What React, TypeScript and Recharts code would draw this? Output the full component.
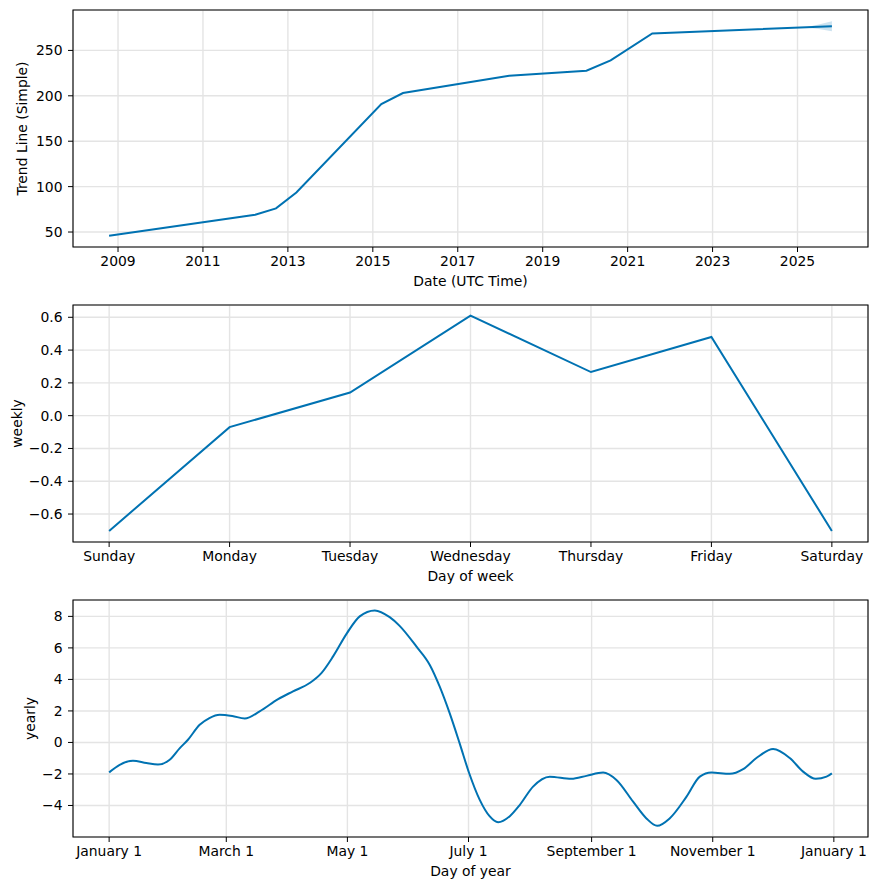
import {
  ComposedChart,
  LineChart,
  Line,
  Area,
  XAxis,
  YAxis,
  CartesianGrid,
  ReferenceArea,
} from 'recharts';

// =============================================================================
// Data
// =============================================================================

// Trend component: decimal years -> value
const trendYears = [2008.79, 2012.23, 2012.72, 2013.2, 2015.2, 2015.71, 2018.21, 2020.03, 2020.6, 2021.58, 2025.81];
const trendValues = [46, 69, 76, 93.6, 191, 203, 222, 227.6, 239, 268.6, 276.6];

// Uncertainty band on the forecast part of the trend
const bandYears = [2025.16, 2025.5, 2025.81];
const bandLower = [275.3, 273.6, 271];
const bandUpper = [275.3, 278.6, 282];

const trendTicks = [2009, 2011, 2013, 2015, 2017, 2019, 2021, 2023, 2025];
const trendYTicks = [50, 100, 150, 200, 250];

// Weekly component
const weekDays = ['Sunday', 'Monday', 'Tuesday', 'Wednesday', 'Thursday', 'Friday', 'Saturday'];
const weeklyValues = [-0.703, -0.07, 0.141, 0.61, 0.266, 0.48, -0.703];
const weeklyYTicks = [-0.6, -0.4, -0.2, 0, 0.2, 0.4, 0.6];

// Yearly component: day of year -> value
const yearlyDays = [
  0, 5.3, 12, 18.8, 24.6, 30.5, 35.6, 39.7, 45.6, 50.5, 55.7, 62, 68.3, 75.8, 85.1, 92.6, 101, 106.9, 112.8,
  119.8, 126.2, 133.8, 141.3, 146.3, 154.8, 161.5, 166.5, 171.5, 176.5, 181.3, 186.6, 191.6, 195.9, 201.8, 206.8,
  213.5, 221.9, 232.8, 240.4, 248.8, 255.5, 263.9, 270.6, 276, 282.3, 290.8, 297.5, 303.3, 312.6, 319.3, 326,
  334.4, 342.8, 349.5, 355.9, 361.3, 364,
];
const yearlyValues = [
  -1.9, -1.42, -1.16, -1.31, -1.4, -1.1, -0.36, 0.17, 1.12, 1.55, 1.76, 1.68, 1.52, 1.97, 2.75, 3.24, 3.77, 4.4,
  5.46, 6.94, 8.0, 8.38, 7.95, 7.4, 6.08, 4.92, 3.54, 1.86, -0.04, -1.94, -3.63, -4.68, -5.06, -4.68, -3.97,
  -2.8, -2.17, -2.31, -2.12, -1.91, -2.38, -3.76, -4.82, -5.29, -4.82, -3.44, -2.17, -1.91, -1.99, -1.69, -0.99,
  -0.42, -0.99, -1.85, -2.31, -2.17, -1.96,
];
const yearlyTicks = [0, 59, 120, 181, 243, 304, 365];
const yearlyTickLabels = ['January 1', 'March 1', 'May 1', 'July 1', 'September 1', 'November 1', 'January 1'];
const yearlyYTicks = [-4, -2, 0, 2, 4, 6, 8];

// =============================================================================
// Style constants
// =============================================================================

const LINE_COLOR = '#0072B2';
const GRID_COLOR = '#e4e4e4';
const FONT = '"DejaVu Sans", sans-serif';
const FONT_SIZE = 13.9;

const TREND_X_DOMAIN: [number, number] = [2007.94, 2026.66];
const TREND_Y_DOMAIN: [number, number] = [33.5, 294.5];
const WEEKLY_X_DOMAIN: [number, number] = [-0.3, 6.3];
const WEEKLY_Y_DOMAIN: [number, number] = [-0.7705, 0.675];
const YEARLY_X_DOMAIN: [number, number] = [-18.2, 382.2];
const YEARLY_Y_DOMAIN: [number, number] = [-6.0, 9.04];

const CHART_W = 878;
const CHART_H = 300;
const MARGIN = { top: 10, right: 10, left: 0, bottom: 0 };

const tickStyle = { fill: '#000', fontSize: FONT_SIZE, fontFamily: FONT };
const axisLabelStyle = { fill: '#000', fontSize: FONT_SIZE, fontFamily: FONT };

// matplotlib uses a real minus sign
const fmtMinus = (s: string) => s.replace('-', '\u2212');

// =============================================================================
// Derived rows
// =============================================================================

const trendRows = (() => {
  const rows: { x: number; trend?: number; band?: [number, number] }[] = [];
  trendYears.forEach((x, i) => rows.push({ x, trend: trendValues[i] }));
  bandYears.forEach((x, i) => {
    const existing = rows.find((r) => r.x === x);
    if (existing) existing.band = [bandLower[i], bandUpper[i]];
    else rows.push({ x, band: [bandLower[i], bandUpper[i]] });
  });
  return rows.sort((a, b) => a.x - b.x);
})();

const weeklyRows = weekDays.map((_, i) => ({ x: i, weekly: weeklyValues[i] }));
const yearlyRows = yearlyDays.map((d, i) => ({ x: d, yearly: yearlyValues[i] }));

// =============================================================================
// Shared axis pieces
// =============================================================================

function Frame({ xd, yd }: { xd: [number, number]; yd: [number, number] }) {
  return (
    <ReferenceArea
      x1={xd[0]}
      x2={xd[1]}
      y1={yd[0]}
      y2={yd[1]}
      fill="none"
      fillOpacity={0}
      stroke="#000"
      strokeOpacity={1}
      strokeWidth={1.1}
      ifOverflow="visible"
    />
  );
}

function xAxisProps(domain: [number, number], ticks: number[], label: string) {
  return {
    dataKey: 'x',
    type: 'number' as const,
    domain,
    ticks,
    allowDataOverflow: true,
    height: 53,
    tickSize: 5,
    tickMargin: 4,
    interval: 0 as const,
    tick: tickStyle,
    tickLine: { stroke: '#000' },
    axisLine: false,
    label: { value: label, position: 'insideTop' as const, offset: 29, style: axisLabelStyle },
  };
}

function yAxisProps(domain: [number, number], ticks: number[], label: string, dx: number) {
  return {
    type: 'number' as const,
    domain,
    ticks,
    allowDataOverflow: true,
    width: 73,
    tickSize: 5,
    tickMargin: 5.5,
    interval: 0 as const,
    tick: tickStyle,
    tickLine: { stroke: '#000' },
    axisLine: false,
    label: { value: label, angle: -90, position: 'center' as const, dx, style: axisLabelStyle },
  };
}

// =============================================================================
// App
// =============================================================================

export default function App() {
  return (
    <div style={{ position: 'absolute', left: 0, top: 0, width: 878, height: 890, background: '#fff' }}>
      {/* Trend */}
      <div style={{ position: 'absolute', left: 0, top: 0 }}>
        <ComposedChart width={CHART_W} height={CHART_H} data={trendRows} margin={MARGIN}>
          <CartesianGrid stroke={GRID_COLOR} strokeWidth={1.4} />
          <XAxis {...xAxisProps(TREND_X_DOMAIN, trendTicks, 'Date (UTC Time)')} tickFormatter={(v: number) => String(v)} />
          <YAxis {...yAxisProps(TREND_Y_DOMAIN, trendYTicks, 'Trend Line (Simple)', -14)} />
          <Area
            dataKey="band"
            type="linear"
            stroke="none"
            fill={LINE_COLOR}
            fillOpacity={0.2}
            isAnimationActive={false}
            connectNulls={false}
          />
          <Line
            dataKey="trend"
            type="linear"
            stroke={LINE_COLOR}
            strokeWidth={2}
            dot={false}
            activeDot={false}
            connectNulls
            isAnimationActive={false}
          />
          <Frame xd={TREND_X_DOMAIN} yd={TREND_Y_DOMAIN} />
        </ComposedChart>
      </div>

      {/* Weekly */}
      <div style={{ position: 'absolute', left: 0, top: 295 }}>
        <LineChart width={CHART_W} height={CHART_H} data={weeklyRows} margin={MARGIN}>
          <CartesianGrid stroke={GRID_COLOR} strokeWidth={1.4} />
          <XAxis
            {...xAxisProps(WEEKLY_X_DOMAIN, [0, 1, 2, 3, 4, 5, 6], 'Day of week')}
            tickFormatter={(v: number) => weekDays[v] ?? ''}
          />
          <YAxis
            {...yAxisProps(WEEKLY_Y_DOMAIN, weeklyYTicks, 'weekly', -19.5)}
            tickFormatter={(v: number) => fmtMinus(v.toFixed(1))}
          />
          <Line
            dataKey="weekly"
            type="linear"
            stroke={LINE_COLOR}
            strokeWidth={2}
            dot={false}
            activeDot={false}
            isAnimationActive={false}
          />
          <Frame xd={WEEKLY_X_DOMAIN} yd={WEEKLY_Y_DOMAIN} />
        </LineChart>
      </div>

      {/* Yearly */}
      <div style={{ position: 'absolute', left: 0, top: 590 }}>
        <LineChart width={CHART_W} height={CHART_H} data={yearlyRows} margin={MARGIN}>
          <CartesianGrid stroke={GRID_COLOR} strokeWidth={1.4} />
          <XAxis
            {...xAxisProps(YEARLY_X_DOMAIN, yearlyTicks, 'Day of year')}
            tickFormatter={(v: number) => yearlyTickLabels[yearlyTicks.indexOf(v)] ?? ''}
          />
          <YAxis
            {...yAxisProps(YEARLY_Y_DOMAIN, yearlyYTicks, 'yearly', -6.5)}
            tickFormatter={(v: number) => fmtMinus(String(v))}
          />
          <Line
            dataKey="yearly"
            type="monotone"
            stroke={LINE_COLOR}
            strokeWidth={2}
            dot={false}
            activeDot={false}
            isAnimationActive={false}
          />
          <Frame xd={YEARLY_X_DOMAIN} yd={YEARLY_Y_DOMAIN} />
        </LineChart>
      </div>
    </div>
  );
}
